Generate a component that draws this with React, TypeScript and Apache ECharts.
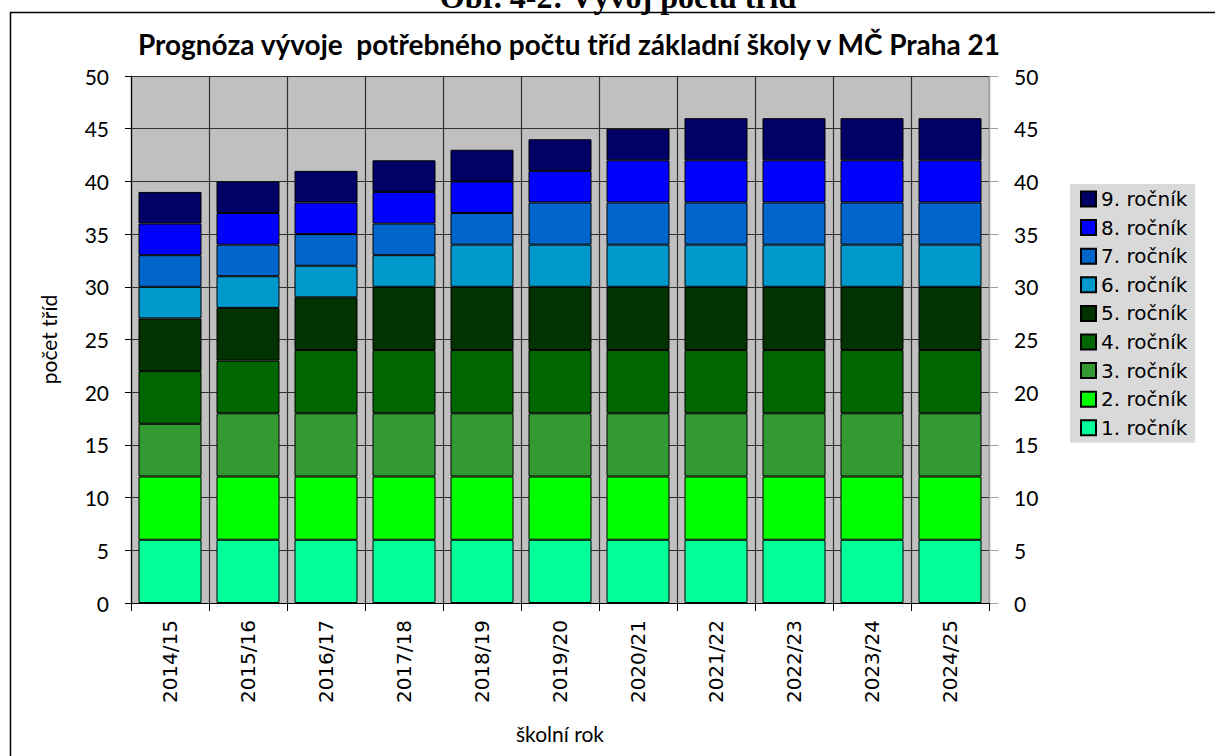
import React, { useEffect, useRef } from "react";
import * as echarts from "echarts";

const categories = ["2014/15", "2015/16", "2016/17", "2017/18", "2018/19", "2019/20", "2020/21", "2021/22", "2022/23", "2023/24", "2024/25"];
const seriesNames = ["1. ročník", "2. ročník", "3. ročník", "4. ročník", "5. ročník", "6. ročník", "7. ročník", "8. ročník", "9. ročník"];
const grade1 = [6, 6, 6, 6, 6, 6, 6, 6, 6, 6, 6];
const grade2 = [6, 6, 6, 6, 6, 6, 6, 6, 6, 6, 6];
const grade3 = [5, 6, 6, 6, 6, 6, 6, 6, 6, 6, 6];
const grade4 = [5, 5, 6, 6, 6, 6, 6, 6, 6, 6, 6];
const grade5 = [5, 5, 5, 6, 6, 6, 6, 6, 6, 6, 6];
const grade6 = [3, 3, 3, 3, 4, 4, 4, 4, 4, 4, 4];
const grade7 = [3, 3, 3, 3, 3, 4, 4, 4, 4, 4, 4];
const grade8 = [3, 3, 3, 3, 3, 3, 4, 4, 4, 4, 4];
const grade9 = [3, 3, 3, 3, 3, 3, 3, 4, 4, 4, 4];
const seriesData = [grade1, grade2, grade3, grade4, grade5, grade6, grade7, grade8, grade9];
const colors = ["#00ff99", "#00ff00", "#339933", "#006600", "#003300", "#0099cc", "#0066cc", "#0000ff", "#000066"];

const chartTitle = "Prognóza vývoje  potřebného počtu tříd základní školy v MČ Praha 21";
const figureCaption = "Obr. 4-2: Vývoj počtu tříd";
const yName = "počet tříd";
const xName = "školní rok";

const CAL = "Lato, 'Open Sans', sans-serif";
const VER = "'DejaVu Sans', Verdana, sans-serif";

export default function App() {
  const ref = useRef<HTMLDivElement>(null);
  useEffect(() => {
    if (!ref.current) return;
    const chart = echarts.init(ref.current, null, { renderer: "svg" });
    const yAxisCommon = {
      type: "value",
      min: 0,
      max: 50,
      interval: 5,
    };
    chart.setOption({
      animation: false,
      backgroundColor: "#ffffff",
      title: {
        text: chartTitle,
        left: 564,
        top: 25,
        textAlign: "center",
        textStyle: { fontFamily: CAL, fontWeight: "bold", fontSize: 28, color: "#000" },
      },
      graphic: [
        {
          type: "rect",
          shape: { x: 10.5, y: 12.5, width: 1300, height: 900 },
          style: { fill: "none", stroke: "#000", lineWidth: 1.5 },
          z: 0,
        },
        {
          type: "text",
          x: 618,
          y: 13,
          style: {
            text: figureCaption,
            fontFamily: "'Liberation Serif', 'Times New Roman', serif",
            fontWeight: "bold",
            fontSize: 32,
            fill: "#000",
            align: "center",
            verticalAlign: "bottom",
          },
        },
      ],
      legend: {
        orient: "vertical",
        left: 1070,
        top: 184,
        backgroundColor: "#d9d9d9",
        padding: [5, 8, 5, 10],
        itemWidth: 15,
        itemHeight: 15,
        itemGap: 8.6,
        icon: "rect",
        data: [...seriesNames].reverse(),
        textStyle: { fontFamily: VER, fontSize: 20, color: "#000", lineHeight: 20 },
      },
      grid: {
        left: 131,
        right: 226,
        top: 76,
        bottom: 153,
        show: true,
        backgroundColor: "#c0c0c0",
        borderWidth: 0,
        outerBoundsMode: "none",
      },
      xAxis: {
        type: "category",
        data: categories,
        name: xName,
        nameLocation: "middle",
        nameGap: 120,
        nameTextStyle: { fontFamily: CAL, fontSize: 21, color: "#000" },
        axisLine: { show: true, lineStyle: { color: "#000", width: 1 } },
        axisTick: { show: true, length: 8, interval: 0, lineStyle: { color: "#000" } },
        splitLine: { show: true, interval: 0, lineStyle: { color: "#303030", width: 1.2 } },
        axisLabel: {
          rotate: 90,
          interval: 0,
          margin: 17,
          fontFamily: VER,
          fontSize: 20,
          color: "#000",
        },
      },
      yAxis: [
        {
          ...yAxisCommon,
          position: "left",
          name: yName,
          nameLocation: "middle",
          nameRotate: 90,
          nameGap: 72,
          nameTextStyle: { fontFamily: CAL, fontSize: 21, color: "#000" },
          axisLine: { show: true, lineStyle: { color: "#000", width: 1.2 } },
          axisTick: { show: true, length: 6, lineStyle: { color: "#000" } },
          splitLine: { show: true, lineStyle: { color: "#303030", width: 1.2 } },
          axisLabel: { margin: 22, fontFamily: CAL, fontSize: 21, color: "#000" },
        },
        {
          ...yAxisCommon,
          position: "right",
          axisLine: { show: true, lineStyle: { color: "#a0a0a0", width: 1.2 } },
          axisTick: { show: true, length: 9, lineStyle: { color: "#a0a0a0" } },
          splitLine: { show: false },
          axisLabel: { margin: 25, fontFamily: CAL, fontSize: 21, color: "#000" },
        },
      ],
      series: seriesNames.map((name, i) => ({
        name,
        type: "bar",
        stack: "total",
        yAxisIndex: 0,
        barWidth: 63,
        data: seriesData[i],
        itemStyle: { color: colors[i], borderColor: "#000", borderWidth: 1 },
        emphasis: { disabled: true },
      })),
    });
    return () => chart.dispose();
  }, []);
  return (
    <div
      ref={ref}
      style={{ position: "absolute", left: 0, top: 0, width: 1215, height: 756 }}
    />
  );
}
